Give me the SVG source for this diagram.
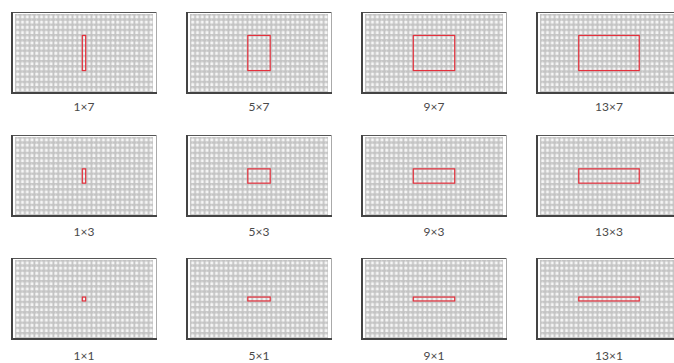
<svg xmlns="http://www.w3.org/2000/svg" width="674" height="363" viewBox="0 0 674 363">
<style>
.lbl{font-family:Lato,"Liberation Sans",sans-serif;font-size:12px;fill:#4a4a4a;text-anchor:middle}
.sel{fill:none;stroke:#e4303c;stroke-width:1.2}
.ft{stroke:#555;stroke-width:1}
.fl{stroke:#444;stroke-width:2}
.fb{stroke:#444;stroke-width:2}
.fr{stroke:#aaa;stroke-width:1}
</style>
<defs>
<pattern id="cell" patternUnits="userSpaceOnUse" x="4" y="2" width="4.76" height="5.2">
<rect width="4.76" height="5.2" fill="#c4c4c4"/>
<rect x="1.3" y="1.5" width="2.9" height="2.9" fill="#f6f6f6"/>
<rect x="2.3" y="0" width="0.6" height="1.5" fill="#e2e2e2"/>
</pattern>
<g id="panel">
<rect x="0" y="0" width="146" height="82" fill="#fff"/>
<rect x="4" y="2" width="138" height="78" fill="url(#cell)"/>
<line class="ft" x1="0" y1="0.5" x2="146" y2="0.5"/>
<line class="fr" x1="145.5" y1="0" x2="145.5" y2="82"/>
<line class="fl" x1="1" y1="0" x2="1" y2="82"/>
<line class="fb" x1="0" y1="81" x2="146" y2="81"/>
</g>
</defs>
<g id="n-1x7" transform="translate(11,12)"><use href="#panel"/><rect class="sel" x="71.32" y="23.45" width="3.36" height="35.1"/><text class="lbl" x="73" y="99">1×7</text></g>
<g id="n-5x7" transform="translate(186,12)"><use href="#panel"/><rect class="sel" x="61.8" y="23.45" width="22.4" height="35.1"/><text class="lbl" x="73" y="99">5×7</text></g>
<g id="n-9x7" transform="translate(361,12)"><use href="#panel"/><rect class="sel" x="52.28" y="23.45" width="41.44" height="35.1"/><text class="lbl" x="73" y="99">9×7</text></g>
<g id="n-13x7" transform="translate(536,12)"><use href="#panel"/><rect class="sel" x="42.76" y="23.45" width="60.48" height="35.1"/><text class="lbl" x="73" y="99">13×7</text></g>
<g id="n-1x3" transform="translate(11,135)"><use href="#panel"/><rect class="sel" x="71.32" y="33.85" width="3.36" height="14.3"/><text class="lbl" x="73" y="101">1×3</text></g>
<g id="n-5x3" transform="translate(186,135)"><use href="#panel"/><rect class="sel" x="61.8" y="33.85" width="22.4" height="14.3"/><text class="lbl" x="73" y="101">5×3</text></g>
<g id="n-9x3" transform="translate(361,135)"><use href="#panel"/><rect class="sel" x="52.28" y="33.85" width="41.44" height="14.3"/><text class="lbl" x="73" y="101">9×3</text></g>
<g id="n-13x3" transform="translate(536,135)"><use href="#panel"/><rect class="sel" x="42.76" y="33.85" width="60.48" height="14.3"/><text class="lbl" x="73" y="101">13×3</text></g>
<g id="n-1x1" transform="translate(11,258)"><use href="#panel"/><rect class="sel" x="71.32" y="39.05" width="3.36" height="3.9"/><text class="lbl" x="73" y="102">1×1</text></g>
<g id="n-5x1" transform="translate(186,258)"><use href="#panel"/><rect class="sel" x="61.8" y="39.05" width="22.4" height="3.9"/><text class="lbl" x="73" y="102">5×1</text></g>
<g id="n-9x1" transform="translate(361,258)"><use href="#panel"/><rect class="sel" x="52.28" y="39.05" width="41.44" height="3.9"/><text class="lbl" x="73" y="102">9×1</text></g>
<g id="n-13x1" transform="translate(536,258)"><use href="#panel"/><rect class="sel" x="42.76" y="39.05" width="60.48" height="3.9"/><text class="lbl" x="73" y="102">13×1</text></g>
<g id="connectors"/>
</svg>
